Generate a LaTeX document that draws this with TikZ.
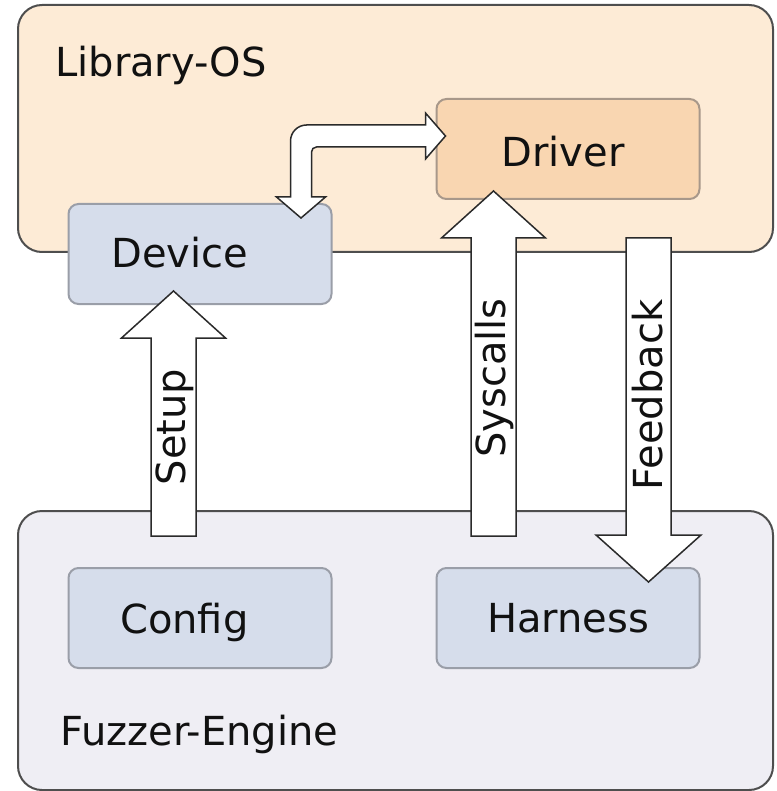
\documentclass[tikz,border=0pt]{standalone}
\usepackage{fontspec}
\setmainfont{DejaVu Sans}
\usetikzlibrary{calc}

\definecolor{libfill}{HTML}{FDEBD6}
\definecolor{fuzzfill}{HTML}{EFEEF4}
\definecolor{drvfill}{HTML}{F9D6B1}
\definecolor{drvline}{HTML}{A8988A}
\definecolor{bluefill}{HTML}{D6DDEB}
\definecolor{blueline}{HTML}{9A9EA8}
\definecolor{outerline}{HTML}{4E4E4E}
\definecolor{arrowline}{HTML}{2A2A2A}
\definecolor{textc}{HTML}{111111}

% vertical block arrows: #1 = tail, #2 = tip (same x)
\newcommand\UpBlock[2]{%
  \draw[blockarrow] ($(#1)+(-22.5,0)$) -- ($(#2)+(-22.5,47)$) -- ($(#2)+(-52,47)$)
    -- (#2) -- ($(#2)+(52,47)$) -- ($(#2)+(22.5,47)$) -- ($(#1)+(22.5,0)$) -- cycle;}
\newcommand\DownBlock[2]{%
  \draw[blockarrow] ($(#1)+(-22.5,0)$) -- ($(#2)+(-22.5,-47)$) -- ($(#2)+(-52.5,-47)$)
    -- (#2) -- ($(#2)+(52.5,-47)$) -- ($(#2)+(22.5,-47)$) -- ($(#1)+(22.5,0)$) -- cycle;}

\begin{document}
\begin{tikzpicture}[x=1pt,y=-1pt,
  outerbox/.style={draw=outerline, line width=2pt, rounded corners=24pt},
  innerbox/.style={line width=2pt, rounded corners=10pt,
                   minimum width=263pt, minimum height=100pt},
  bluebox/.style={innerbox, draw=blueline, fill=bluefill},
  blockarrow/.style={draw=arrowline, fill=white, line width=1.5pt, line join=miter},
  lbl/.style={font=\fontsize{40}{48}\selectfont, inner sep=0pt, text=textc}]

\useasboundingbox (0,0) rectangle (776,791);

% enclosing areas
\node[outerbox, fill=libfill, minimum width=755pt, minimum height=247pt] (libos) at (395.5,128.5) {};
\node[outerbox, fill=fuzzfill, minimum width=755pt, minimum height=279pt] (fuzzer) at (395.5,650.5) {};
\node[lbl, anchor=base west] (libostext) at (55,77) {Library-OS};
\node[lbl, anchor=base west] (fuzzertext) at (60,745) {Fuzzer-Engine};

% components
\node[innerbox, draw=drvline, fill=drvfill] (driver) at (568,149) {};
\node[bluebox] (device) at (200,254) {};
\node[bluebox] (config) at (200,618) {};
\node[bluebox] (harness) at (568,618) {};

\node[lbl, anchor=base] (drivertext) at (563,167) {Driver};
\node[lbl, anchor=base west] (devicetext) at (111,267) {Device};
\node[lbl, anchor=base west] (configtext) at (120,633) {Config};
\node[lbl, anchor=base] (harnesstext) at (568,632) {Harness};

% arrow end points
\coordinate (setupTail) at ($(config.north)+(-26.5,-31)$);
\coordinate (setupTip)  at ($(device.south)+(-26.5,-14)$);
\coordinate (sysTail)   at ($(harness.north)+(-74.5,-31)$);
\coordinate (sysTip)    at ($(driver.south)+(-74.5,-9)$);
\coordinate (fbTail)    at ($(driver.south)+(80.5,38)$);
\coordinate (fbTip)     at ($(harness.north)+(80.5,15)$);
\coordinate (devTip)    at ($(device.north)+(101,15)$);
\coordinate (drvTip)    at ($(driver.west)+(10,-13)$);
\coordinate (bend)      at (devTip |- drvTip);

\UpBlock{setupTail}{setupTip}
\UpBlock{sysTail}{sysTip}
\DownBlock{fbTail}{fbTip}

% bent two-way arrow between Device and Driver (rounded elbow)
\draw[blockarrow] (devTip) -- ($(devTip)+(-24.5,-21)$) -- ($(devTip)+(-10.5,-21)$)
  -- ($(bend)+(-10.5,5)$) .. controls ($(bend)+(-10.5,-3.8)$) and ($(bend)+(-3.3,-11)$) .. ($(bend)+(5.5,-11)$)
  -- ($(drvTip)+(-20,-11)$) -- ($(drvTip)+(-20,-23)$) -- (drvTip)
  -- ($(drvTip)+(-20,23)$) -- ($(drvTip)+(-20,11)$)
  -- ($(bend)+(15.5,11)$) .. controls ($(bend)+(12.7,11)$) and ($(bend)+(10.5,13.2)$) .. ($(bend)+(10.5,16)$)
  -- ($(devTip)+(10.5,-21)$) -- ($(devTip)+(24.5,-21)$) -- cycle;

% arrow labels
\node[lbl, anchor=base, rotate=90] (setuptext) at (185,427) {Setup};
\node[lbl, anchor=base, rotate=90] (systext) at (505,378) {Syscalls};
\node[lbl, anchor=base, rotate=90] (fbtext) at (662,395) {Feedback};
\end{tikzpicture}
\end{document}
